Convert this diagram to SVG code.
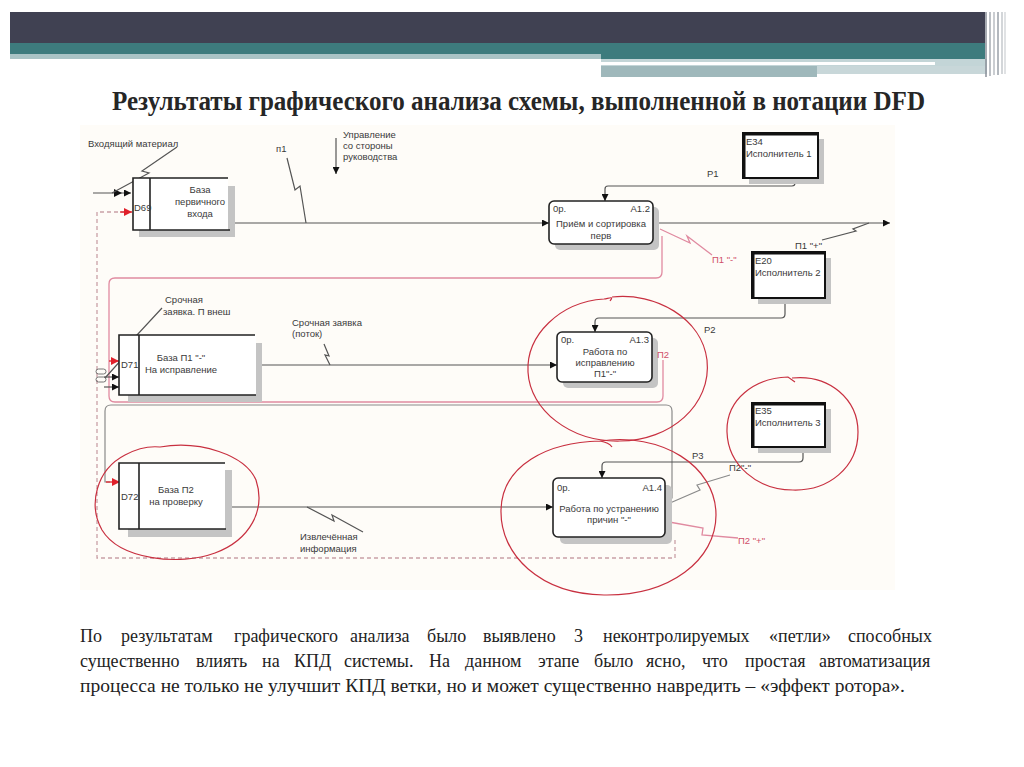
<svg xmlns="http://www.w3.org/2000/svg" width="1024" height="767" viewBox="0 0 1024 767">
<defs>
<style>
.t{font-family:"Liberation Sans",Arial,sans-serif;font-size:9.5px;fill:#3a3a3a}
.tc{text-anchor:middle}
.tp{font-family:"Liberation Sans",Arial,sans-serif;font-size:9.5px;fill:#d0506a}
.ln{fill:none;stroke:#555;stroke-width:1.2}
.pk{fill:none;stroke:#e08aa0;stroke-width:1.3}
.gr{fill:none;stroke:#8a8a8a;stroke-width:1.2}
.dash{fill:none;stroke:#c9a0a6;stroke-width:1.3;stroke-dasharray:4 3}
.box{fill:none;stroke:#222;stroke-width:1.6}
.shadow{fill:#c4c4c4}
.proc{fill:#fff;stroke:#222;stroke-width:1.6}
.ent{fill:#fff;stroke:#111;stroke-width:2}
.circ{fill:none;stroke:#c83040;stroke-width:1.2}
.body{font-family:"Liberation Serif","Times New Roman",serif;font-size:18px;fill:#222}
</style>
<marker id="ah" viewBox="0 0 10 10" refX="10" refY="5" markerWidth="7" markerHeight="7" orient="auto" markerUnits="userSpaceOnUse"><path d="M0,0 L10,5 L0,10 z" fill="#111"/></marker>
<marker id="ahr" viewBox="0 0 10 10" refX="10" refY="5" markerWidth="8" markerHeight="8" orient="auto" markerUnits="userSpaceOnUse"><path d="M0,0 L10,5 L0,10 z" fill="#e0202a"/></marker>
</defs>
<rect width="1024" height="767" fill="#ffffff"/>
<rect x="80" y="125" width="815" height="465" fill="#fefcf8"/>
<!-- header -->
<g id="header">
<rect x="10" y="12" width="975" height="31" fill="#404152"/>
<rect x="10" y="43" width="975" height="11" fill="#3d7b7d"/>
<rect x="10" y="54" width="591" height="5" fill="#a9c3c5"/>
<rect x="601" y="54" width="384" height="5" fill="#3d7b7d"/>
<rect x="601" y="59" width="386" height="7" fill="#c3d5d7"/>
<rect x="601" y="62" width="334" height="3" fill="#ffffff"/>
<rect x="601" y="66" width="216" height="11" fill="#9fb8bb"/>
<rect x="817" y="66" width="170" height="8" fill="#c8d7d9"/>
<g stroke-width="1.5">
<line x1="986" y1="12" x2="986" y2="77" stroke="#8a8f98"/>
<line x1="990" y1="12" x2="990" y2="76" stroke="#a6abb2"/>
<line x1="994" y1="12" x2="994" y2="75" stroke="#b8bcc2"/>
<line x1="998" y1="12" x2="998" y2="75" stroke="#9aa0a8"/>
<line x1="1002" y1="12" x2="1002" y2="74" stroke="#c4c8cc"/>
<line x1="1005" y1="12" x2="1005" y2="74" stroke="#d6d8db"/>
</g>
</g>
<text x="112" y="110" textLength="813" lengthAdjust="spacingAndGlyphs" style="font-family:'Liberation Serif','Times New Roman',serif;font-size:27px;font-weight:bold;fill:#262626">Результаты графического анализа схемы, выполненной в нотации DFD</text>

<!-- connectors -->
<g id="connectors">
<polyline class="dash" points="675,540 675,558 97,558 97,212 124,212"/>
<line x1="120" y1="212" x2="132" y2="212" stroke="#e0202a" stroke-width="1.3" marker-end="url(#ahr)"/>
<line x1="93" y1="193" x2="131" y2="193" class="ln" marker-end="url(#ah)"/>
<path d="M114,189 L122,193 L114,197 z" fill="#111"/>
<polyline class="ln" points="177,147 142,171 149,173 112,193" stroke-width="1"/>
<line x1="235" y1="223" x2="549" y2="223" class="ln" marker-end="url(#ah)"/>
<polyline class="ln" stroke-width="1" points="287,158 295,190 300,186 306,223"/>
<line x1="336" y1="138" x2="336" y2="174" class="ln" marker-end="url(#ah)"/>
<line x1="659" y1="223" x2="890" y2="223" class="ln" marker-end="url(#ah)"/>
<polyline class="ln" stroke-width="1" points="822,240 856,231 853,229 869,223"/>
<path class="ln" d="M795,182 L795,183 Q795,186 792,186 L608,186 Q605,186 605,189 L605,201" marker-end="url(#ah)"/>
<path d="M791,182 L795,175 L799,182 z" fill="#111"/>
<polyline class="pk" points="660,229 690,243 687,236 712,255"/>
<path class="pk" d="M662,236 L662,272 Q662,278 656,278 L115,278 Q109,278 109,284 L109,396 Q109,402 115,402 L657,402 Q663,402 663,396 L663,360"/>
<line x1="109" y1="361" x2="119" y2="361" stroke="#e0202a" stroke-width="1.3" marker-end="url(#ahr)"/>
<polyline class="ln" stroke-width="1" points="162,308 136,336 141,338 105,378"/>
<line x1="104" y1="377" x2="119" y2="377" class="ln" marker-end="url(#ah)"/>
<line x1="104" y1="387" x2="119" y2="387" class="ln" marker-end="url(#ah)"/>
<rect x="96" y="369" width="10" height="5" rx="2.5" fill="none" stroke="#666" stroke-width="0.9"/>
<rect x="96" y="377" width="10" height="5" rx="2.5" fill="none" stroke="#666" stroke-width="0.9"/>
<line x1="262" y1="365" x2="557" y2="365" class="ln" marker-end="url(#ah)"/>
<polyline class="ln" stroke-width="1" points="324,344 329,356 325,355 330,365"/>
<path class="ln" d="M785,302 L785,314 Q785,318 781,318 L599,318 Q595,318 595,322 L595,332" marker-end="url(#ah)"/>
<path d="M781,302 L785,295 L789,302 z" fill="#111"/>
<path class="gr" d="M666,498 L672,498 L672,411 Q672,405 666,405 L111,405 Q105,405 105,411 L105,482 L110,482"/>
<line x1="106" y1="482" x2="120" y2="482" stroke="#e0202a" stroke-width="1.3" marker-end="url(#ahr)"/>
<line x1="232" y1="507" x2="553" y2="507" class="ln" marker-end="url(#ah)"/>
<polyline class="ln" stroke-width="1" points="307,507 334,521 332,515 363,532"/>
<path class="ln" d="M803,450 L803,458 Q803,462 799,462 L606,462 Q602,462 602,466 L602,478" marker-end="url(#ah)"/>
<path d="M799,450 L803,443 L807,450 z" fill="#111"/>
<polyline class="gr" stroke="#777" points="670,503 700,490 697,485 730,475"/>
<polyline class="pk" points="669,522 703,528 702,535 738,538"/>
</g>

<!-- stores -->
<g id="D69">
<rect class="shadow" x="139" y="186" width="96" height="51"/>
<rect x="133" y="178" width="95" height="52" fill="#fff"/>
<polyline class="box" points="228,178 133,178 133,230 230,230"/>
<line class="box" x1="150" y1="178" x2="150" y2="230"/>
<text class="t" x="134" y="211">D69</text>
<text class="t tc" x="200" y="193">База</text>
<text class="t tc" x="200" y="205">первичного</text>
<text class="t tc" x="200" y="217">входа</text>
</g>
<g id="D71">
<rect class="shadow" x="128" y="343" width="134" height="59"/>
<rect x="119" y="335" width="137" height="60" fill="#fff"/>
<polyline class="box" points="255,335 119,335 119,395 256,395"/>
<line class="box" x1="139" y1="335" x2="139" y2="395"/>
<text class="t" x="121" y="368">D71</text>
<text class="t tc" x="181" y="361">База П1 "-"</text>
<text class="t tc" x="181" y="373">На исправление</text>
</g>
<g id="D72">
<rect class="shadow" x="128" y="470" width="104" height="67"/>
<rect x="119" y="463" width="106" height="66" fill="#fff"/>
<polyline class="box" points="225,463 119,463 119,529 226,529"/>
<line class="box" x1="139" y1="463" x2="139" y2="529"/>
<text class="t" x="121" y="500">D72</text>
<text class="t tc" x="176" y="493">База П2</text>
<text class="t tc" x="176" y="505">на проверку</text>
</g>

<!-- processes -->
<g id="A1.2">
<rect class="shadow" x="555" y="207" width="104" height="43" rx="5"/>
<rect class="proc" x="549" y="201" width="104" height="43" rx="5"/>
<text class="t" x="553" y="212">0р.</text>
<text class="t" x="650" y="212" text-anchor="end">A1.2</text>
<text class="t tc" x="601" y="227">Приём и сортировка</text>
<text class="t tc" x="601" y="239">перв</text>
</g>
<g id="A1.3">
<rect class="shadow" x="563" y="338" width="95" height="50" rx="5"/>
<rect class="proc" x="557" y="332" width="95" height="50" rx="5"/>
<text class="t" x="561" y="343">0р.</text>
<text class="t" x="649" y="343" text-anchor="end">A1.3</text>
<text class="t tc" x="605" y="355">Работа по</text>
<text class="t tc" x="605" y="366">исправлению</text>
<text class="t tc" x="605" y="377">П1"-"</text>
</g>
<text class="tp" x="657" y="358">П2</text>
<g id="A1.4">
<rect class="shadow" x="560" y="485" width="112" height="59" rx="5"/>
<rect class="proc" x="553" y="478" width="112" height="59" rx="5"/>
<text class="t" x="557" y="491">0р.</text>
<text class="t" x="662" y="491" text-anchor="end">A1.4</text>
<text class="t tc" x="609" y="512">Работа по устранению</text>
<text class="t tc" x="609" y="523">причин "-"</text>
</g>

<!-- entities -->
<g id="E34">
<rect class="shadow" x="749" y="139" width="75" height="45"/>
<rect class="ent" x="743" y="133" width="75" height="45"/>
<polyline points="744,178 744,134 818,134" fill="none" stroke="#111" stroke-width="3"/>
<text class="t" x="746" y="145">E34</text>
<text class="t" x="746" y="157">Исполнитель 1</text>
</g>
<g id="E20">
<rect class="shadow" x="758" y="258" width="73" height="46"/>
<rect class="ent" x="752" y="252" width="73" height="46"/>
<polyline points="753,298 753,253 825,253" fill="none" stroke="#111" stroke-width="3"/>
<text class="t" x="755" y="264">E20</text>
<text class="t" x="755" y="276">Исполнитель 2</text>
</g>
<g id="E35">
<rect class="shadow" x="758" y="409" width="73" height="44"/>
<rect class="ent" x="752" y="403" width="73" height="44"/>
<polyline points="753,447 753,404 825,404" fill="none" stroke="#111" stroke-width="3"/>
<text class="t" x="755" y="414">E35</text>
<text class="t" x="755" y="426">Исполнитель 3</text>
</g>

<!-- labels -->
<g id="labels">
<text class="t" x="88" y="147">Входящий материал</text>
<text class="t" x="276" y="152">п1</text>
<text class="t" x="343" y="138">Управление</text>
<text class="t" x="343" y="149">со стороны</text>
<text class="t" x="343" y="160">руководства</text>
<text class="t" x="707" y="177">P1</text>
<text class="t" x="795" y="249">П1 "+"</text>
<text class="tp" x="712" y="263">П1 "-"</text>
<text class="t" x="165" y="303">Срочная</text>
<text class="t" x="163" y="315">заявка. П внеш</text>
<text class="t" x="292" y="326">Срочная заявка</text>
<text class="t" x="292" y="337">(поток)</text>
<text class="t" x="704" y="333">P2</text>
<text class="t" x="692" y="459">P3</text>
<text class="t" x="729" y="471">П2"-"</text>
<text class="tp" x="738" y="544">П2 "+"</text>
<text class="t" x="300" y="540">Извлечённая</text>
<text class="t" x="300" y="552">информация</text>
</g>

<!-- hand drawn circles -->
<g id="circles">
<path class="circ" d="M612,297 C655,292 702,318 707,360 C712,405 670,441 620,441 C570,442 530,410 528,372 C526,335 560,302 604,299 C610,298 614,296 610,301"/>
<path class="circ" d="M792,378 C830,374 858,400 858,432 C858,468 828,491 793,490 C757,490 728,465 727,432 C726,399 755,378 788,377 L795,382"/>
<path class="circ" d="M600,441 C660,432 716,465 716,515 C716,560 670,596 604,595 C540,594 500,555 501,510 C502,465 548,442 600,441 C606,442 610,444 612,447"/>
<path class="circ" d="M160,447 C200,440 245,455 256,480 C266,510 250,540 215,553 C180,566 120,560 102,530 C88,505 96,470 125,455 C138,448 150,446 160,447 Z"/>
</g>

<!-- body text -->
<g id="body" class="body">
<text y="642"><tspan x="80">По</tspan><tspan x="121">результатам</tspan><tspan x="234">графического</tspan><tspan x="350">анализа</tspan><tspan x="427">было</tspan><tspan x="483">выявлено</tspan><tspan x="574">3</tspan><tspan x="603">неконтролируемых</tspan><tspan x="769">«петли»</tspan><tspan x="848">способных</tspan></text>
<text y="667"><tspan x="80">существенно</tspan><tspan x="196">влиять</tspan><tspan x="262">на</tspan><tspan x="294">КПД</tspan><tspan x="344">системы.</tspan><tspan x="429">На</tspan><tspan x="465">данном</tspan><tspan x="538">этапе</tspan><tspan x="594">было</tspan><tspan x="646">ясно,</tspan><tspan x="702">что</tspan><tspan x="745">простая</tspan><tspan x="819">автоматизация</tspan></text>
<text x="80" y="692" textLength="825" lengthAdjust="spacingAndGlyphs">процесса не только не улучшит КПД ветки, но и может существенно навредить – «эффект ротора».</text>
</g>
</svg>
